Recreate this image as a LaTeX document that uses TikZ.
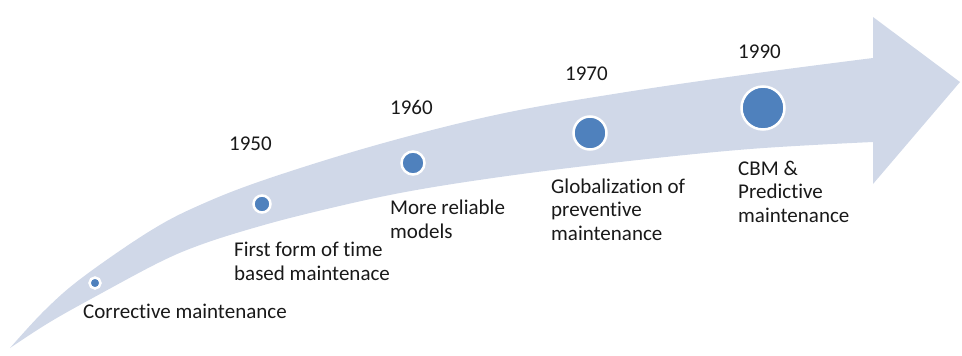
\documentclass[tikz,border=0pt]{standalone}
\usepackage{fontspec}
\setmainfont{Carlito}[Ligatures=NoCommon]
\definecolor{bandc}{HTML}{D0D8E8}
\definecolor{dotc}{HTML}{4F81BD}
\begin{document}
\begin{tikzpicture}[x=1pt,y=-1pt,
  lbl/.style={font=\fontsize{21}{23.5}\selectfont, align=left, anchor=base west, inner sep=0pt, text=black!90},
  dot/.style={circle, fill=dotc, draw=white, line width=2.5pt, inner sep=0pt}]
\useasboundingbox (0,0) rectangle (962,356);
\fill[bandc] plot[smooth, tension=0.6] coordinates {(10,348) (45,310) (83,277) (150,231) (200,205) (267,179) (380,144) (500,114) (620,93) (750,74) (873,58)}
  -- (873,17) -- (960,82) -- (873,184) -- (873,142)
  -- plot[smooth, tension=0.6] coordinates {(873,142) (750,149) (620,162) (500,177) (400,193) (310,213) (250,229) (200,245) (160,262) (100,294) (50,322) (10,348)} -- cycle;
\node[dot, minimum size=11pt] (c1) at (95,283) {};
\node[dot, minimum size=17pt] (c2) at (262,204) {};
\node[dot, minimum size=23pt] (c3) at (413,163) {};
\node[dot, minimum size=33pt] (c4) at (590,133) {};
\node[dot, minimum size=43pt] (c5) at (763,108) {};
\node[lbl] (t1) at (83,318) {Corrective maintenance};
\node[lbl] (y2) at (229,150) {1950};
\node[lbl] (t2) at (234,280) {First form of time\\based maintenace};
\node[lbl] (y3) at (390,114) {1960};
\node[lbl] (t3) at (390,238) {More reliable\\models};
\node[lbl] (y4) at (565,80) {1970};
\node[lbl] (t4) at (551,240) {Globalization of\\preventive\\maintenance};
\node[lbl] (y5) at (738,58) {1990};
\node[lbl] (t5) at (738,222) {CBM \&\\Predictive\\maintenance};
\end{tikzpicture}
\end{document}
